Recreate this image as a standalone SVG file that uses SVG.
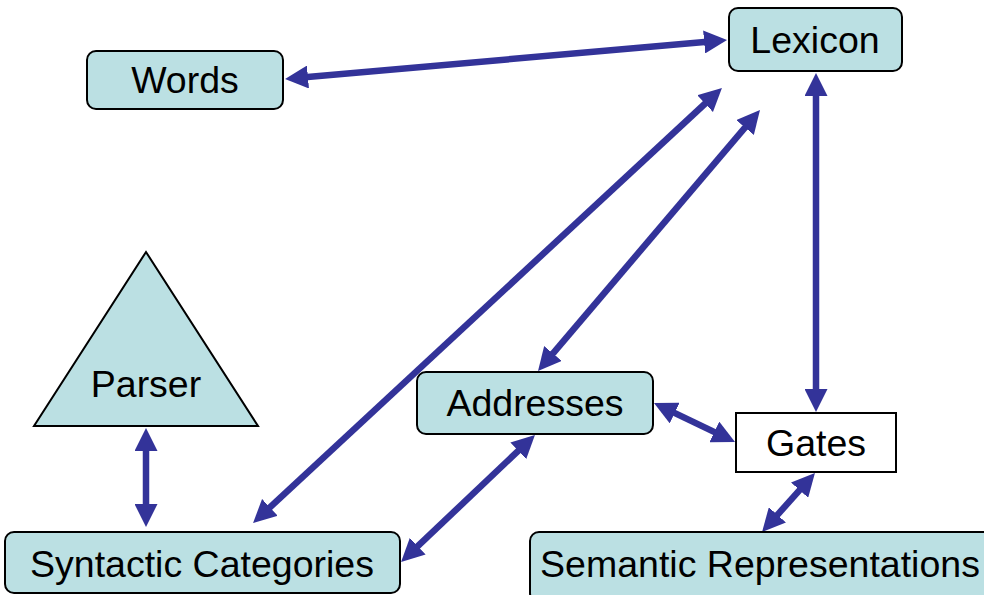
<svg xmlns="http://www.w3.org/2000/svg" width="984" height="595" viewBox="0 0 984 595">
  <style>
    .box { fill: #bbe0e3; stroke: #000; stroke-width: 2; }
    .plain { fill: #fff; stroke: #000; stroke-width: 2; }
    .label { font-family: "Liberation Sans", Arial, sans-serif; font-size: 37.5px; fill: #000; text-anchor: middle; }
    .link { stroke: #333399; stroke-width: 6.5; fill: none; marker-start: url(#head); marker-end: url(#head); }
  </style>
  <defs>
    <marker id="head" markerUnits="userSpaceOnUse" markerWidth="23" markerHeight="23" viewBox="0 0 23 23" refX="9" refY="11.5" orient="auto-start-reverse">
      <path d="M0,0 L23,11.5 L0,23 z" fill="#333399"/>
    </marker>
  </defs>

  <rect width="984" height="595" fill="#fff"/>

  <g id="connectors">
    <line class="link" x1="299" y1="77.8" x2="713.1" y2="41.2"/>
    <line class="link" x1="711.7" y1="97.5" x2="263.3" y2="513.5"/>
    <line class="link" x1="750.9" y1="120.7" x2="547.1" y2="360.3"/>
    <line class="link" x1="816" y1="87" x2="816" y2="398"/>
    <line class="link" x1="146" y1="442" x2="146" y2="513"/>
    <line class="link" x1="524.8" y1="444.6" x2="411.2" y2="552.4"/>
    <line class="link" x1="666.6" y1="409.1" x2="722.4" y2="435.9"/>
    <line class="link" x1="805.6" y1="483.4" x2="771.4" y2="521.6"/>
  </g>

  <g id="words">
    <rect class="box" x="87" y="51" width="196" height="58" rx="9"/>
    <text class="label" x="185" y="93">Words</text>
  </g>

  <g id="lexicon">
    <rect class="box" x="729" y="8" width="173" height="63" rx="9"/>
    <text class="label" x="815" y="53">Lexicon</text>
  </g>

  <g id="parser">
    <polygon class="box" points="146,252 258,426 34,426"/>
    <text class="label" x="146" y="397">Parser</text>
  </g>

  <g id="addresses">
    <rect class="box" x="417" y="372" width="236" height="62" rx="9"/>
    <text class="label" x="535" y="416">Addresses</text>
  </g>

  <g id="gates">
    <rect class="plain" x="736" y="413" width="160" height="59"/>
    <text class="label" x="816" y="456">Gates</text>
  </g>

  <g id="syntactic-categories">
    <rect class="box" x="5" y="532" width="395" height="61" rx="9"/>
    <text class="label" x="202" y="577">Syntactic Categories</text>
  </g>

  <g id="semantic-representations">
    <rect class="box" x="530" y="532" width="470" height="70" rx="9"/>
    <text class="label" x="760" y="577">Semantic Representations</text>
  </g>
</svg>
